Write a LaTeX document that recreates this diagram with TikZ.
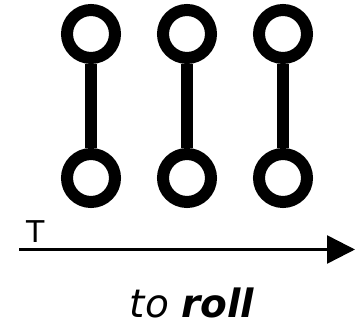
\documentclass[tikz,border=0pt]{standalone}
\usepackage{fontspec}
\setmainfont{DejaVu Sans}
\usetikzlibrary{arrows.meta}

\begin{document}
\begin{tikzpicture}[x=1pt,y=1pt]
	\tikzset{
		bead/.style={circle, draw, line width=12pt, minimum size=48pt, inner sep=0pt},
		rod/.style={line width=11.5pt}
	}
	\useasboundingbox (0,0) rectangle (361,329);
	
	\foreach \i/\x in {1/91,2/187,3/283}{
		\node[bead] (top\i) at (\x,295) {};
		\node[bead] (bot\i) at (\x,151) {};
		\draw[rod] (top\i) -- (bot\i);
	}
	
	\coordinate (tstart) at (19,79.5);
	\coordinate (tend) at (355,79.5);
	\draw[line width=2.5pt, -{Triangle[length=28pt,width=28pt]}] (tstart) -- (tend);
	\node[anchor=base west, inner sep=0pt, font=\fontsize{30}{34}\selectfont] (tlabel) at (26.5,86.3) {T};
	
	\node[anchor=base, inner sep=0pt, font=\fontsize{39}{44}\selectfont] (verb) at (192,12) {\itshape to \bfseries roll};
\end{tikzpicture}
\end{document}
